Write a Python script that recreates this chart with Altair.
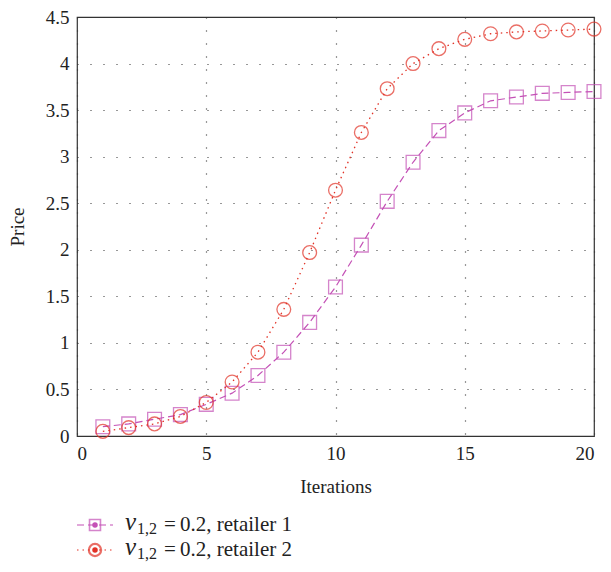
import altair as alt
import pandas as pd

iterations = list(range(1, 21))
retailer1 = [0.10, 0.13, 0.18, 0.23, 0.34, 0.46, 0.65, 0.90, 1.22, 1.60,
             2.05, 2.52, 2.94, 3.28, 3.47, 3.60, 3.64, 3.68, 3.69, 3.70]
retailer2 = [0.05, 0.09, 0.13, 0.21, 0.36, 0.58, 0.90, 1.36, 1.97, 2.64,
             3.26, 3.73, 4.00, 4.16, 4.26, 4.32, 4.34, 4.35, 4.36, 4.37]
series_names = ["retailer 1", "retailer 2"]
legend_value = ["0.2, retailer 1", "0.2, retailer 2"]
x_ticks = [0, 5, 10, 15, 20]
y_ticks = [0, 0.5, 1, 1.5, 2, 2.5, 3, 3.5, 4, 4.5]

C1 = "#c451b6"
C2 = "#e23226"
FONT = "Liberation Serif"

df1 = pd.DataFrame({"it": iterations, "price": retailer1})
df2 = pd.DataFrame({"it": iterations, "price": retailer2})

xs = alt.Scale(domain=[0, 20], nice=False)
ys = alt.Scale(domain=[0, 4.5], nice=False)

xenc = alt.X("it:Q", scale=xs, axis=alt.Axis(
    values=x_ticks, title="Iterations", grid=True, tickSize=0, labelPadding=8,
    titlePadding=14))
yenc = alt.Y("price:Q", scale=ys, axis=alt.Axis(
    values=y_ticks, title="Price", grid=True, tickSize=0, labelPadding=8,
    titlePadding=18, labelExpr="datum.value == 0 ? '0' : format(datum.value, '')"))

line1 = alt.Chart(df1).mark_line(color=C1, strokeWidth=1.2, strokeDash=[7, 4]).encode(x=xenc, y=yenc)
pt1 = alt.Chart(df1).mark_point(shape="square", size=190, color=C1, strokeWidth=1.3, filled=False).encode(
    x=alt.X("it:Q", scale=xs), y=alt.Y("price:Q", scale=ys))
line2 = alt.Chart(df2).mark_line(color=C2, strokeWidth=1.3, strokeDash=[1.5, 4]).encode(
    x=alt.X("it:Q", scale=xs), y=alt.Y("price:Q", scale=ys))
pt2 = alt.Chart(df2).mark_point(shape="circle", size=190, color=C2, strokeWidth=1.3, filled=False).encode(
    x=alt.X("it:Q", scale=xs), y=alt.Y("price:Q", scale=ys))

# custom legend below the plot
layers = [line1, pt1, line2, pt2]
leg_rows = [508, 533]
colors = [C1, C2]
dashes = [[7, 4], [1.5, 4]]
shapes = ["square", "circle"]
for i in range(2):
    ldf = pd.DataFrame({"name": [series_names[i]], "value": [legend_value[i]]})
    base = alt.Chart(ldf)
    layers.append(base.mark_rule(color=colors[i], strokeWidth=1.2, strokeDash=dashes[i]).encode(
        x=alt.value(0), x2=alt.value(36), y=alt.value(leg_rows[i])))
    layers.append(base.mark_point(shape=shapes[i], size=120 if i == 0 else 150, color=colors[i],
                                  strokeWidth=1.6 if i == 0 else 2.2, filled=False).encode(
        x=alt.value(18), y=alt.value(leg_rows[i])))
    layers.append(base.mark_point(shape="circle", size=30, color=colors[i], filled=True, opacity=1).encode(
        x=alt.value(18), y=alt.value(leg_rows[i])))
    layers.append(base.mark_text(text="v", font=FONT, fontStyle="italic", fontSize=25, align="left",
                                 baseline="alphabetic", color="#222").encode(
        x=alt.value(48), y=alt.value(leg_rows[i] + 5)))
    layers.append(base.mark_text(text="1,2", font=FONT, fontSize=16, align="left",
                                 baseline="alphabetic", color="#222").encode(
        x=alt.value(60), y=alt.value(leg_rows[i] + 9)))
    layers.append(base.mark_text(text="=", font=FONT, fontSize=21, align="left",
                                 baseline="alphabetic", color="#222").encode(
        x=alt.value(87), y=alt.value(leg_rows[i] + 6)))
    layers.append(base.mark_text(font=FONT, fontSize=21, align="left",
                                 baseline="alphabetic", color="#222").encode(
        text="value:N", x=alt.value(103), y=alt.value(leg_rows[i] + 6)))

chart = alt.layer(*layers).properties(
    width=517, height=419,
    autosize=alt.AutoSizeParams(type="none"),
    padding={"left": 69, "top": 9, "right": 9, "bottom": 128},
).configure_view(stroke="#333", strokeWidth=1.2).configure_axis(
    labelFont=FONT, titleFont=FONT, labelFontSize=19, titleFontSize=19,
    labelColor="#222", titleColor="#222", titleFontWeight="normal",
    gridColor="#333", gridDash=[1, 12], gridWidth=1.2, gridOpacity=1,
    domain=False,
)

chart.save("out.html", embed_options={"renderer": "svg", "actions": False})
